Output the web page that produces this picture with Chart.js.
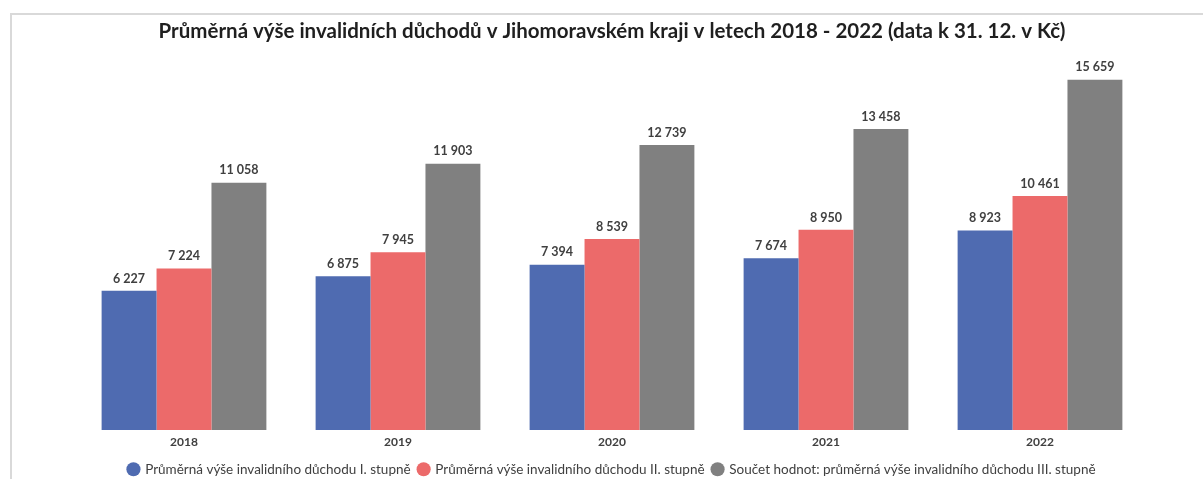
<!DOCTYPE html>
<html>
<head>
<meta charset="utf-8">
<script src="https://cdn.jsdelivr.net/npm/chart.js@4/dist/chart.umd.min.js"></script>
<style>
  html, body { margin: 0; padding: 0; background: #fff; }
  #wrap { position: relative; width: 1203px; height: 479px; overflow: hidden; }
  #frame { position: absolute; left: 10px; top: 13px; width: 1300px; height: 600px;
           border-left: 2px solid #d9d9d9; border-top: 2px solid #d9d9d9; }
  canvas { position: absolute; left: 0; top: 0; }
</style>
</head>
<body>
<div id="wrap">
  <div id="frame"></div>
  <canvas id="c" width="1203" height="486"></canvas>
</div>
<script>
const categories = ['2018', '2019', '2020', '2021', '2022'];
const seriesNames = [
  'Průměrná výše invalidního důchodu I. stupně',
  'Průměrná výše invalidního důchodu II. stupně',
  'Součet hodnot: průměrná výše invalidního důchodu III. stupně'
];
const stupen1 = [6227, 6875, 7394, 7674, 8923];
const stupen2 = [7224, 7945, 8539, 8950, 10461];
const stupen3 = [11058, 11903, 12739, 13458, 15659];
const titleText = 'Průměrná výše invalidních důchodů v Jihomoravském kraji v letech 2018 - 2022 (data k 31. 12. v Kč)';

const colors = ['#4F6BB1', '#EC6A6A', '#808080'];
const fmt = v => String(v).replace(/\B(?=(\d{3})+(?!\d))/g, ' ');

const valueLabels = {
  id: 'valueLabels',
  afterDatasetsDraw(chart) {
    const ctx = chart.ctx;
    ctx.save();
    ctx.font = 'bold 12.5px Lato';
    ctx.fillStyle = '#404040';
    ctx.textAlign = 'center';
    ctx.textBaseline = 'bottom';
    chart.data.datasets.forEach((ds, i) => {
      const meta = chart.getDatasetMeta(i);
      meta.data.forEach((bar, j) => {
        ctx.fillText(fmt(ds.data[j]), bar.x, bar.y - 6);
      });
    });
    ctx.restore();
  }
};

new Chart(document.getElementById('c'), {
  type: 'bar',
  data: {
    labels: categories,
    datasets: [
      { label: seriesNames[0], data: stupen1, backgroundColor: colors[0] },
      { label: seriesNames[1], data: stupen2, backgroundColor: colors[1] },
      { label: seriesNames[2], data: stupen3, backgroundColor: colors[2] }
    ]
  },
  options: {
    responsive: false,
    animation: false,
    layout: { padding: { left: 77, right: 56, top: 19, bottom: 0 } },
    datasets: { bar: { categoryPercentage: 0.77, barPercentage: 1.0 } },
    scales: {
      x: {
        grid: { display: false, drawTicks: false },
        border: { display: false },
        ticks: { color: '#404040', font: { family: 'Lato', size: 12, weight: 'bold' }, padding: 5 }
      },
      y: { display: false, min: 0, max: 16600 }
    },
    plugins: {
      title: {
        display: true,
        text: titleText,
        color: '#1f1f1f',
        font: { family: 'Lato', size: 20.5, weight: 'bold' },
        padding: { top: 0, bottom: 15 }
      },
      legend: {
        position: 'bottom',
        labels: {
          usePointStyle: true,
          pointStyle: 'circle',
          boxWidth: 10,
          boxHeight: 10,
          padding: 8,
          color: '#404040',
          font: { family: 'Lato', size: 13.5 }
        }
      },
      tooltip: { enabled: false }
    }
  },
  plugins: [valueLabels]
});
</script>
</body>
</html>
